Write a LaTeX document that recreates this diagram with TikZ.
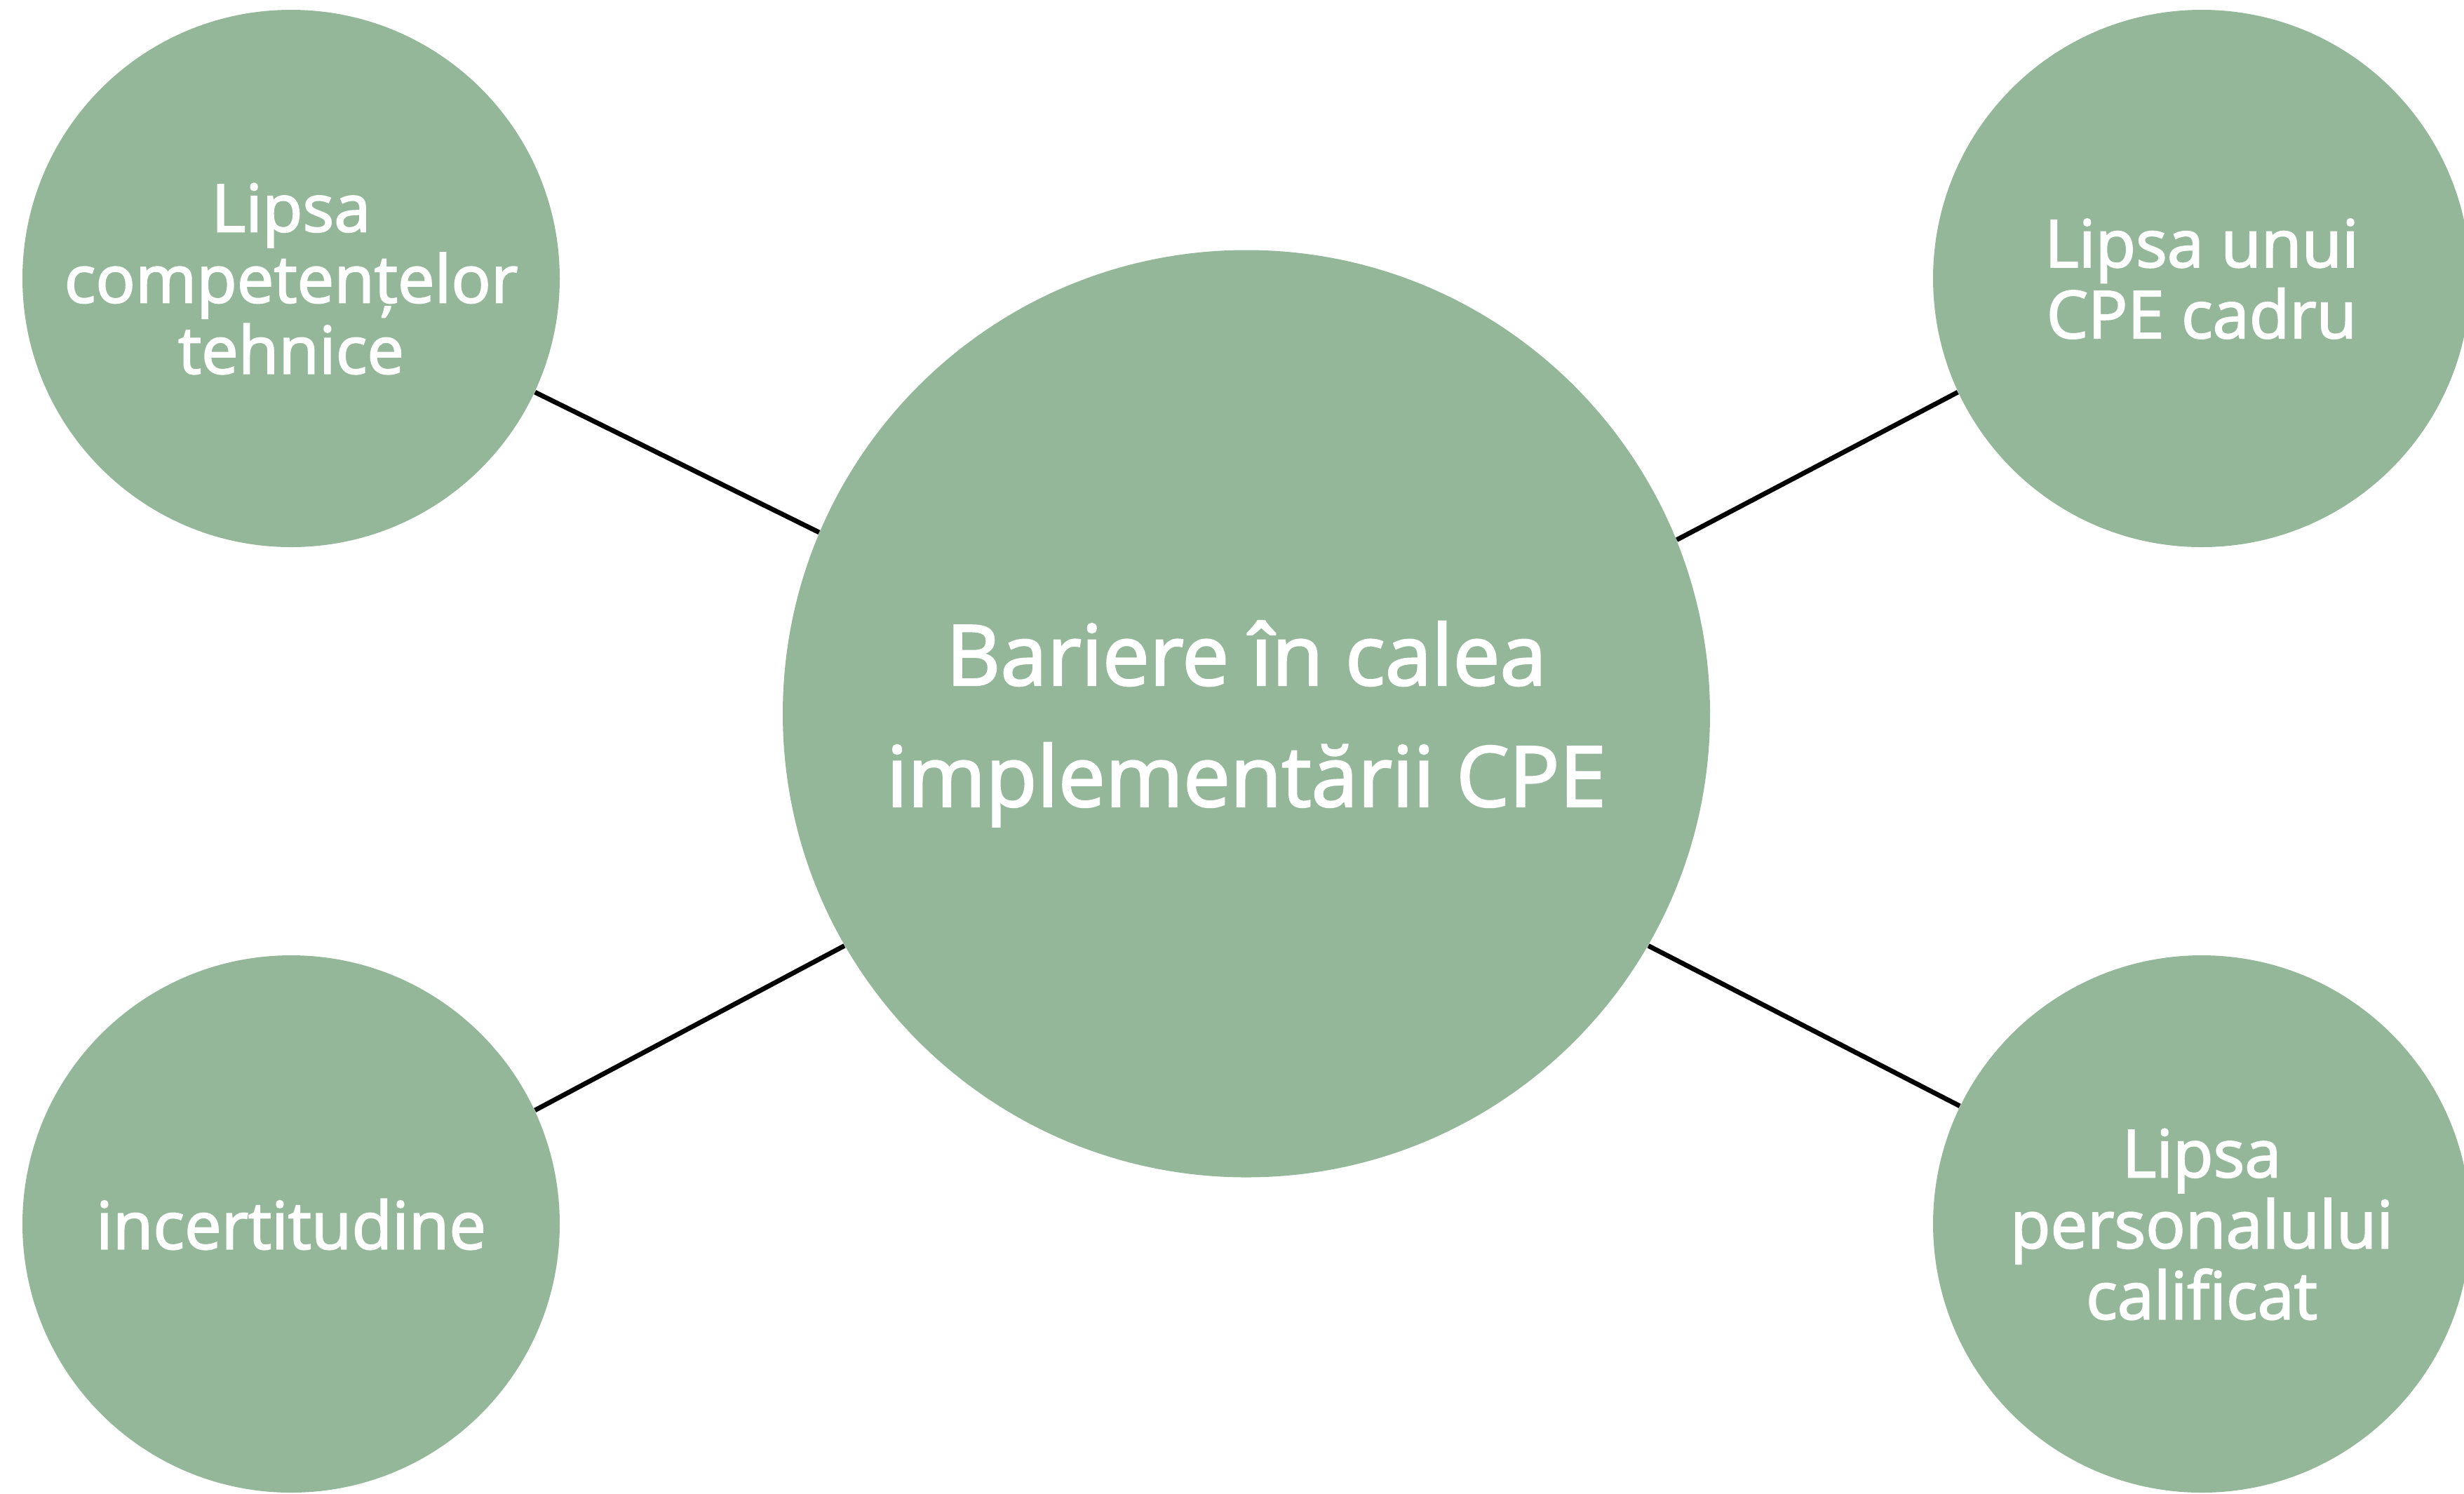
\documentclass[tikz,border=0pt]{standalone}
\usepackage{fontspec}
\setmainfont{Open Sans}[RawFeature={embolden=2.2}]
\definecolor{sage}{RGB}{148,183,153}
\begin{document}
\begin{tikzpicture}[
  bubble/.style={circle, fill=sage, inner sep=0pt, text=white, align=center, text depth=0pt},
  small/.style={bubble, minimum size=7.66cm, font=\fontsize{26.7}{28.8}\selectfont},
  big/.style={bubble, minimum size=13.22cm, font=\fontsize{34}{49.2}\selectfont},
  link/.style={draw=black, line width=0.068cm}
]
\useasboundingbox (0,0) rectangle (35.13,-21.29);
\node[big] (c) at (17.77,-10.175) {Bariere în calea\\implementării CPE};
\node[small] (tl) at (4.15,-3.97) {Lipsa\\competențelor\\tehnice};
\node[small] (tr) at (31.39,-3.97) {Lipsa unui\\CPE cadru};
\node[small] (bl) at (4.15,-17.45) {incertitudine};
\node[small] (br) at (31.39,-17.45) {Lipsa\\personalului\\calificat};
\draw[link] (c.157.4) -- (tl.-25.2);
\draw[link] (c.22.5) -- (tr.205);
\draw[link] (c.210.9) -- (bl.25.25);
\draw[link] (c.-30.8) -- (br.154.6);
\end{tikzpicture}
\end{document}
